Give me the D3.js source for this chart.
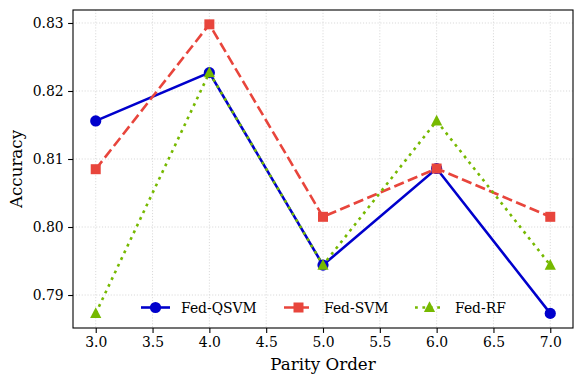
<!DOCTYPE html>
<html>
  <head>
    <meta charset="utf-8">
    <title>Parity order accuracy</title>
    <script src="https://d3js.org/d3.v7.min.js"></script>
    <style>
      body { margin: 0; background: #fff; }
      .grid line { stroke: #cfcfcf; stroke-width: 0.8; stroke-dasharray: 1.1 1.8; }
    </style>
  </head>
  <body>
    <svg id="chart" width="584" height="384"></svg>
    <script>
      // data
      var orders = [3, 4, 5, 6, 7];
      var qsvm = [0.8156, 0.8227, 0.7944, 0.8086, 0.7873];
      var svm = [0.8085, 0.8298, 0.8015, 0.8086, 0.8015];
      var rf = [0.7873, 0.8227, 0.7944, 0.8156, 0.7944];
      var seriesNames = ["Fed-QSVM", "Fed-SVM", "Fed-RF"];
      var xTicks = [3.0, 3.5, 4.0, 4.5, 5.0, 5.5, 6.0, 6.5, 7.0];
      var yTicks = [0.79, 0.80, 0.81, 0.82, 0.83];

      var serif = "'DejaVu Serif', 'Liberation Serif', serif";
      var styles = [
        { color: "#0000cc", dash: null, marker: "circle" },
        { color: "#e8453c", dash: "10.3 4.4", marker: "square" },
        { color: "#76b900", dash: "2.8 4.6", marker: "triangle" }
      ];
      var series = [qsvm, svm, rf].map(function(vals, i) {
        return { name: seriesNames[i], style: styles[i], values: vals.map(function(v, j) { return { x: orders[j], y: v }; }) };
      });

      var margin = { top: 10, right: 11, bottom: 56, left: 73 };
      var width = 584, height = 384;
      var chart = d3.select("#chart");

      var x = d3.scaleLinear().domain([2.8, 7.2]).range([margin.left, width - margin.right]);
      var y = d3.scaleLinear().domain([0.78515, 0.83191]).range([height - margin.bottom, margin.top]);

      // grid
      chart.append("g").attr("class", "grid")
        .selectAll("line").data(xTicks).enter().append("line")
          .attr("x1", function(d) { return x(d); }).attr("x2", function(d) { return x(d); })
          .attr("y1", margin.top).attr("y2", height - margin.bottom);
      chart.append("g").attr("class", "grid")
        .selectAll("line").data(yTicks).enter().append("line")
          .attr("y1", function(d) { return y(d); }).attr("y2", function(d) { return y(d); })
          .attr("x1", margin.left).attr("x2", width - margin.right);

      // axes
      var xAxis = d3.axisBottom(x).tickValues(xTicks).tickFormat(d3.format(".1f")).tickSizeOuter(0).tickSizeInner(4.9).tickPadding(4.5);
      var yAxis = d3.axisLeft(y).tickValues(yTicks).tickFormat(d3.format(".2f")).tickSizeOuter(0).tickSizeInner(4.9).tickPadding(4.5);
      var xg = chart.append("g").attr("transform", "translate(0," + (height - margin.bottom) + ")").call(xAxis);
      var yg = chart.append("g").attr("transform", "translate(" + margin.left + ",0)").call(yAxis);
      [xg, yg].forEach(function(g) {
        g.attr("font-family", null).attr("font-size", null);
        g.select(".domain").remove();
        g.selectAll(".tick line").attr("stroke", "#000").attr("stroke-width", 1.1);
        g.selectAll(".tick text").style("font-family", serif).style("font-size", "13.9px").attr("fill", "#000");
      });

      chart.append("text")
        .style("font-family", serif).style("font-size", "16.7px")
        .attr("x", (margin.left + width - margin.right) / 2).attr("y", 370)
        .attr("text-anchor", "middle").text("Parity Order");
      chart.append("text")
        .style("font-family", serif).style("font-size", "16.7px")
        .attr("transform", "translate(22," + ((margin.top + height - margin.bottom) / 2) + ") rotate(-90)")
        .attr("text-anchor", "middle").text("Accuracy");

      // markers
      function drawMarker(g, kind, color) {
        if (kind === "circle") {
          g.append("circle").attr("r", 5.6).attr("fill", color);
        } else if (kind === "square") {
          g.append("rect").attr("x", -5).attr("y", -5).attr("width", 10).attr("height", 10).attr("fill", color);
        } else {
          g.append("path").attr("d", "M0,-6.2L5.6,4.6L-5.6,4.6Z").attr("fill", color);
        }
      }

      var line = d3.line().x(function(d) { return x(d.x); }).y(function(d) { return y(d.y); });
      var plot = chart.append("g");
      series.forEach(function(s) {
        var g = plot.append("g");
        g.append("path").datum(s.values)
          .attr("d", line).attr("fill", "none")
          .attr("stroke", s.style.color).attr("stroke-width", 2.6)
          .attr("stroke-dasharray", s.style.dash);
        g.selectAll(".pt").data(s.values).enter().append("g")
          .attr("transform", function(d) { return "translate(" + x(d.x) + "," + y(d.y) + ")"; })
          .each(function() { drawMarker(d3.select(this), s.style.marker, s.style.color); });
      });

      // frame
      chart.append("rect")
        .attr("x", margin.left).attr("y", margin.top)
        .attr("width", width - margin.left - margin.right).attr("height", height - margin.top - margin.bottom)
        .attr("fill", "none").attr("stroke", "#000").attr("stroke-width", 1.1);

      // legend
      var legendX = [141, 284, 415];
      var legend = chart.append("g").attr("transform", "translate(0,307.5)");
      series.forEach(function(s, i) {
        var item = legend.append("g").attr("transform", "translate(" + legendX[i] + ",0)");
        item.append("line").attr("x1", 0).attr("x2", 29).attr("y1", 0).attr("y2", 0)
          .attr("stroke", s.style.color).attr("stroke-width", 2.6)
          .attr("stroke-dasharray", s.style.dash);
        drawMarker(item.append("g").attr("transform", "translate(14.5,0)"), s.style.marker, s.style.color);
        item.append("text").style("font-family", serif).style("font-size", "13.9px")
          .attr("x", 40).attr("y", 0).attr("dy", "0.36em").text(s.name);
      });
    </script>
  </body>
</html>
